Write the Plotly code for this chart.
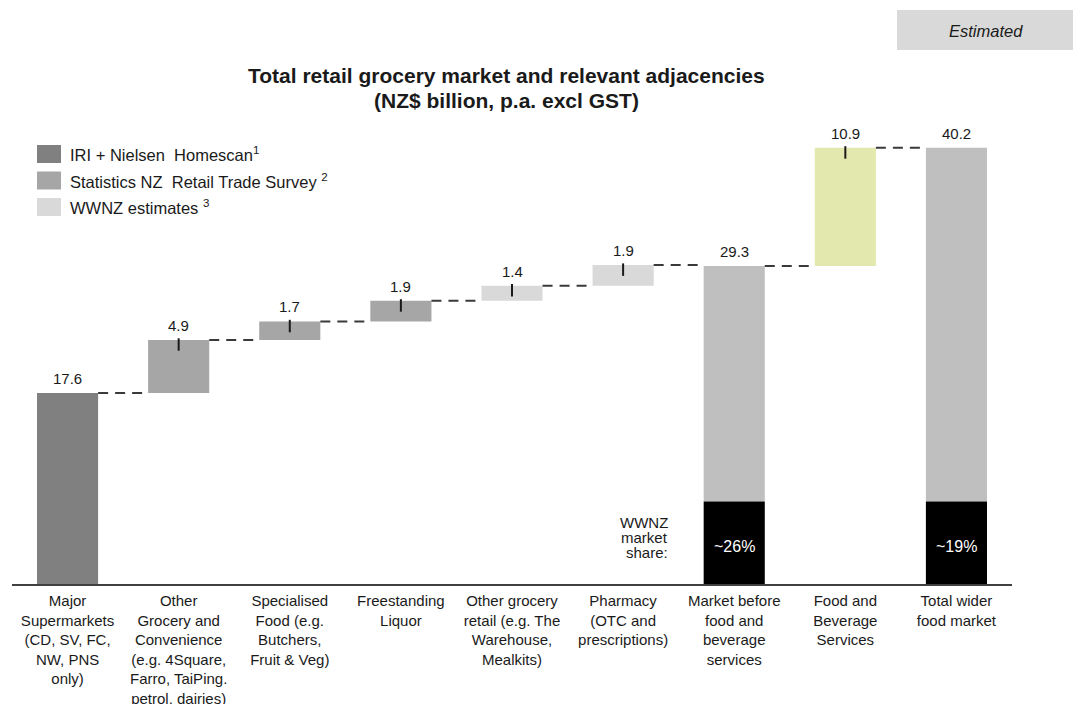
import plotly.graph_objects as go

# ---------------- data ----------------
categories = [
    "Major<br>Supermarkets<br>(CD, SV, FC,<br>NW, PNS<br>only)",
    "Other<br>Grocery and<br>Convenience<br>(e.g. 4Square,<br>Farro, TaiPing.<br>petrol, dairies)",
    "Specialised<br>Food (e.g.<br>Butchers,<br>Fruit & Veg)",
    "Freestanding<br>Liquor",
    "Other grocery<br>retail (e.g. The<br>Warehouse,<br>Mealkits)",
    "Pharmacy<br>(OTC and<br>prescriptions)",
    "Market before<br>food and<br>beverage<br>services",
    "Food and<br>Beverage<br>Services",
    "Total wider<br>food market",
]
values = [17.6, 4.9, 1.7, 1.9, 1.4, 1.9, 29.3, 10.9, 40.2]
value_labels = ["17.6", "4.9", "1.7", "1.9", "1.4", "1.9", "29.3", "10.9", "40.2"]
bar_kind = ["total", "delta", "delta", "delta", "delta", "delta", "total", "delta", "total"]
source = ["iri", "stats", "stats", "stats", "wwnz", "wwnz", "sub", "fbs", "sub"]
share_pct = [None, None, None, None, None, None, 26, None, 19]
legend_labels = ["IRI + Nielsen  Homescan<sup>1</sup>",
                 "Statistics NZ  Retail Trade Survey <sup>2</sup>",
                 "WWNZ estimates <sup>3</sup>"]
legend_sources = ["iri", "stats", "wwnz"]

# ---------------- styles ----------------
colors = {"iri": "#808080", "stats": "#a6a6a6", "wwnz": "#d9d9d9",
          "sub": "#bfbfbf", "fbs": "#e3e8ae"}
BAR_W = 0.55
FONT = "Liberation Sans, Arial, sans-serif"
W, H = 1073, 704
ML, MR, MT, MB = 12, 61, 140, 120
YMAX = (H - MT - MB) / 10.85


def px_x(x):
    return (x - ML) / (W - ML - MR)


def px_y(y):
    return (H - MB - y) / (H - MT - MB)


# ---------------- waterfall geometry from data ----------------
pos = list(range(len(values)))
bases, tops = [], []
running = 0.0
for v, k in zip(values, bar_kind):
    if k == "total":
        bases.append(0.0)
        running = v
    else:
        bases.append(running)
        running = running + v
    tops.append(running)

main_base, main_h = [], []
share_x, share_h, share_txt = [], [], []
for i, (v, b, p) in enumerate(zip(values, bases, share_pct)):
    if p is not None:
        s = round(v * p / 100, 1)
        share_x.append(i)
        share_h.append(s)
        share_txt.append(f"~{p}%")
        main_base.append(s)
        main_h.append(v - s)
    else:
        main_base.append(b)
        main_h.append(v)

fig = go.Figure()
fig.add_trace(go.Bar(x=pos, y=main_h, base=main_base, width=BAR_W,
                     marker=dict(color=[colors[s] for s in source], line_width=0),
                     hoverinfo="skip", showlegend=False))
fig.add_trace(go.Bar(x=share_x, y=share_h, base=[0] * len(share_x), width=BAR_W,
                     marker=dict(color="#000000", line_width=0),
                     hoverinfo="skip", showlegend=False))

# connectors
cx, cy = [], []
for i in range(len(values) - 1):
    cx += [i + BAR_W / 2, i + 1 - BAR_W / 2, None]
    cy += [tops[i], tops[i], None]
fig.add_trace(go.Scatter(x=cx, y=cy, mode="lines",
                         line=dict(color="#3a3a3a", width=2, dash="10px,7px"),
                         hoverinfo="skip", showlegend=False, cliponaxis=False))

# small tick marks at top of increment bars
tx, ty = [], []
for i, k in enumerate(bar_kind):
    if k == "delta":
        tx += [i, i, None]
        ty += [tops[i] + 0.15, tops[i] - 1.0, None]
fig.add_trace(go.Scatter(x=tx, y=ty, mode="lines",
                         line=dict(color="#1a1a1a", width=2),
                         hoverinfo="skip", showlegend=False, cliponaxis=False))

ann = []
for i, t in enumerate(value_labels):
    ann.append(dict(x=i, y=tops[i], xref="x", yref="y", text=t, showarrow=False,
                    xanchor="center", yanchor="bottom", yshift=4,
                    font=dict(family=FONT, size=15, color="#1a1a1a")))
for x, t in zip(share_x, share_txt):
    ann.append(dict(x=x, y=px_y(546), xref="x", yref="paper", text=t, showarrow=False,
                    xanchor="center", yanchor="middle",
                    font=dict(family=FONT, size=16, color="#ffffff")))

# WWNZ market share label
for t, y in zip(["WWNZ", "market", "share:"], [522, 537, 552]):
    ann.append(dict(x=px_x(670), y=px_y(y), xref="paper", yref="paper", text=t,
                    showarrow=False, xanchor="right", yanchor="middle",
                    font=dict(family=FONT, size=15, color="#1a1a1a")))

# title
for t, y in zip(["<b>Total retail grocery market and relevant adjacencies</b>",
                 "<b>(NZ$ billion, p.a. excl GST)</b>"], [75, 101]):
    ann.append(dict(x=px_x(506), y=px_y(y), xref="paper", yref="paper", text=t,
                    showarrow=False, xanchor="center", yanchor="middle",
                    font=dict(family=FONT, size=21, color="#1a1a1a")))

# Estimated box
shapes = [dict(type="rect", xref="paper", yref="paper",
               x0=px_x(897), x1=px_x(1073), y0=px_y(50), y1=px_y(10),
               fillcolor="#d9d9d9", line_width=0, layer="below")]
ann.append(dict(x=px_x(986), y=px_y(31), xref="paper", yref="paper",
                text="<i>Estimated</i>", showarrow=False,
                xanchor="center", yanchor="middle",
                font=dict(family=FONT, size=16.5, color="#1a1a1a")))

# legend
for j, (lab, s) in enumerate(zip(legend_labels, legend_sources)):
    yc = 154 + j * 26.5
    shapes.append(dict(type="rect", xref="paper", yref="paper",
                       x0=px_x(37), x1=px_x(61), y0=px_y(yc + 9), y1=px_y(yc - 9),
                       fillcolor=colors[s], line_width=0))
    ann.append(dict(x=px_x(68), y=px_y(yc), xref="paper", yref="paper", text=lab,
                    showarrow=False, xanchor="left", yanchor="middle",
                    font=dict(family=FONT, size=16.5, color="#1a1a1a")))

fig.update_layout(
    width=W, height=H,
    margin=dict(l=ML, r=MR, t=MT, b=MB, pad=0, autoexpand=False),
    paper_bgcolor="white", plot_bgcolor="white",
    barmode="overlay",
    showlegend=False,
    annotations=ann, shapes=shapes,
    xaxis=dict(range=[-0.5, len(values) - 0.5], tickvals=pos, ticktext=categories,
               showgrid=False, zeroline=False, showline=True, linecolor="#404040",
               linewidth=2, ticks="", automargin=False, ticklabelstandoff=2,
               tickfont=dict(family=FONT, size=15, color="#1a1a1a"),
               fixedrange=True),
    yaxis=dict(range=[0, YMAX], visible=False, fixedrange=True, automargin=False),
)

fig.write_html("out.html")
